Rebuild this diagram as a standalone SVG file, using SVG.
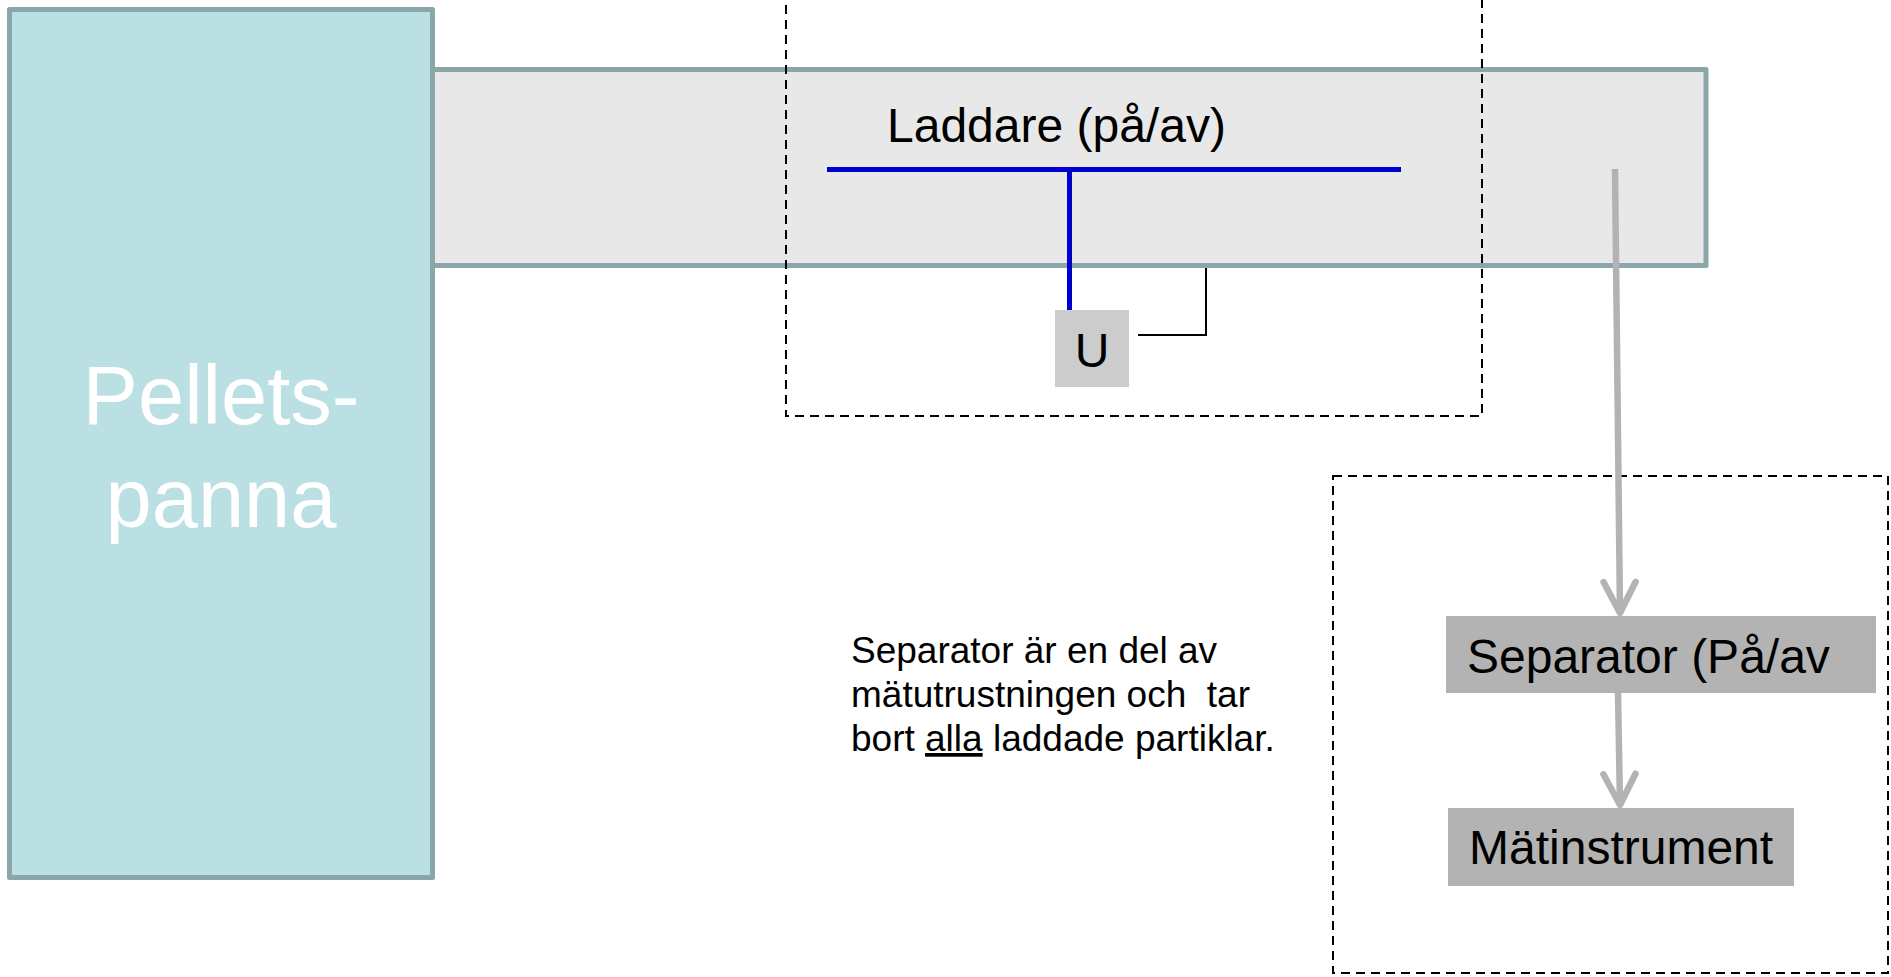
<svg xmlns="http://www.w3.org/2000/svg" width="1891" height="977" viewBox="0 0 1891 977">
<style>
  .lbl { font-family: "Liberation Sans", Arial, sans-serif; fill: #000; }
  .big { font-size: 48px; }
  .dash { fill: none; stroke: #000; stroke-width: 2; stroke-dasharray: 9 6; }
  .flow { fill: none; stroke: #B3B3B3; stroke-width: 6.5; }
  .gbox { fill: #B3B3B3; }
</style>
<defs>
  <marker id="chev" viewBox="-40 -25 50 50" refX="0" refY="0" markerWidth="50" markerHeight="50" markerUnits="userSpaceOnUse" orient="auto">
    <path d="M-31,-16 L0,0 L-31,16" fill="none" stroke="#B3B3B3" stroke-width="6.5" stroke-linecap="round" stroke-linejoin="round"/>
  </marker>
</defs>
<rect width="1891" height="977" fill="#FFFFFF"/>

<g id="tube">
  <rect x="432" y="69.5" width="1274" height="196" fill="#E8E8E8" stroke="#8AA6A8" stroke-width="5" stroke-linejoin="round"/>
</g>

<g id="pelletspanna">
  <rect x="9.5" y="9.5" width="423" height="868" fill="#BBE0E3" stroke="#8AA6A8" stroke-width="5" stroke-linejoin="round"/>
  <text x="221" y="424" text-anchor="middle" font-family="Liberation Sans, Arial, sans-serif" font-size="83" fill="#FFFFFF">Pellets-</text>
  <text x="221" y="527" text-anchor="middle" font-family="Liberation Sans, Arial, sans-serif" font-size="83" fill="#FFFFFF">panna</text>
</g>

<g id="laddare-group">
  <rect x="786" y="-10" width="696" height="426" class="dash"/>
</g>

<g id="matgroup">
  <rect x="1333" y="476" width="555" height="497" class="dash"/>
</g>

<g id="laddare">
  <text x="887" y="142" class="lbl big">Laddare (på/av)</text>
  <line x1="827" y1="169.5" x2="1401" y2="169.5" stroke="#0000CC" stroke-width="5"/>
</g>

<g id="u">
  <rect x="1055" y="310" width="74" height="77" fill="#CCCCCC"/>
  <text x="1092" y="367" text-anchor="middle" class="lbl big">U</text>
</g>

<g id="separator">
  <rect x="1446" y="616" width="430" height="77" class="gbox"/>
  <text x="1467" y="673" class="lbl big">Separator (På/av</text>
</g>

<g id="matinstrument">
  <rect x="1448" y="808" width="346" height="78" class="gbox"/>
  <text x="1469" y="864" class="lbl big">Mätinstrument</text>
</g>

<g id="note">
  <text class="lbl" font-size="37">
    <tspan x="851" y="663">Separator är en del av</tspan>
    <tspan x="851" y="707">mätutrustningen och&#160; tar</tspan>
    <tspan x="851" y="751">bort <tspan text-decoration="underline">alla</tspan> laddade partiklar.</tspan>
  </text>
</g>

<g id="connectors">
  <line x1="1069.5" y1="169.5" x2="1069.5" y2="310" stroke="#0000CC" stroke-width="5"/>
  <path d="M1138,335 H1206 V268" fill="none" stroke="#000" stroke-width="2"/>
  <path d="M1615,169 L1620,613" class="flow" marker-end="url(#chev)"/>
  <path d="M1618,693 L1620,805" class="flow" marker-end="url(#chev)"/>
</g>
</svg>
